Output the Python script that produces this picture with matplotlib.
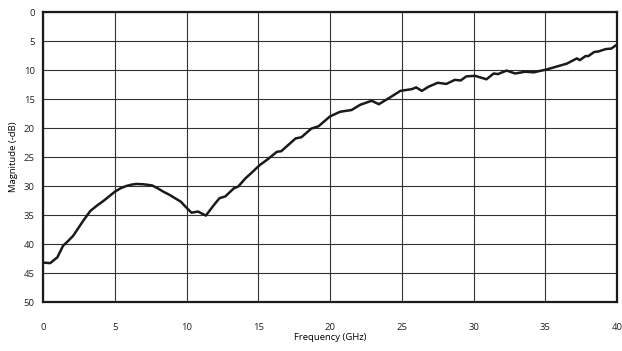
import numpy as np
import matplotlib
matplotlib.use('Agg')
import matplotlib.pyplot as plt

# frequency (GHz) and magnitude (-dB)
freq = [0.0, 0.5, 1.0, 1.4, 1.7, 2.1, 2.8, 3.3, 3.8, 4.2, 4.6, 5.0, 5.4, 5.8,
        6.2, 6.5, 7.0, 7.6, 8.0, 8.4, 8.8, 9.2, 9.6, 10.1, 10.35, 10.8,
        11.35, 11.9, 12.3, 12.7, 13.3, 13.6, 14.1, 14.5, 15.1, 15.6, 16.3,
        16.6, 17.6, 18.0, 18.7, 19.2, 20.0, 20.7, 21.5, 22.1, 22.9, 23.4,
        24.2, 24.9, 25.7, 26.0, 26.4, 26.85, 27.5, 28.1, 28.7, 29.1, 29.5,
        30.1, 30.9, 31.4, 31.7, 32.3, 32.9, 33.6, 34.2, 35.1, 35.8, 36.5,
        37.2, 37.4, 37.8, 38.0, 38.4, 38.7, 39.2, 39.6, 40.0]
magnitude = [43.2, 43.3, 42.3, 40.3, 39.6, 38.6, 36.0, 34.3, 33.3, 32.6,
             31.8, 31.0, 30.4, 30.0, 29.75, 29.65, 29.7, 29.9, 30.4, 31.0,
             31.5, 32.1, 32.7, 34.0, 34.6, 34.4, 35.1, 33.3, 32.1, 31.8, 30.4,
             30.1, 28.7, 27.8, 26.4, 25.5, 24.1, 24.0, 21.8, 21.6, 20.1, 19.7,
             18.0, 17.2, 16.9, 16.0, 15.3, 15.9, 14.7, 13.6, 13.3, 13.0, 13.6,
             12.9, 12.2, 12.4, 11.7, 11.8, 11.1, 11.0, 11.6, 10.6, 10.7, 10.1,
             10.6, 10.3, 10.4, 9.9, 9.4, 8.9, 8.0, 8.3, 7.6, 7.6, 6.9, 6.8,
             6.4, 6.3, 5.6]

x_ticks = [0, 5, 10, 15, 20, 25, 30, 35, 40]
y_ticks = [0, 5, 10, 15, 20, 25, 30, 35, 40, 45, 50]

plt.rcParams['font.family'] = ['Open Sans', 'DejaVu Sans']

fig = plt.figure(figsize=(6.22, 3.51), dpi=100)
ax = fig.add_axes([0.0691, 0.1396, 0.923, 0.8262])
ax.plot(freq, magnitude, color='#1a1a1a', linewidth=1.8,
        solid_joinstyle='round', solid_capstyle='round')
ax.set_xlim(0, 40)
ax.set_ylim(50, 0)
ax.set_xticks(x_ticks)
ax.set_yticks(y_ticks)
ax.tick_params(length=0, labelsize=6.8, colors='#222222')
ax.tick_params(axis='x', pad=15)
ax.tick_params(axis='y', pad=6)
ax.grid(True, color='#333333', linewidth=0.8)
for s in ax.spines.values():
    s.set_linewidth(1.6)
    s.set_color('#1a1a1a')
ax.set_xlabel('Frequency (GHz)', fontsize=6.8, labelpad=1)
ax.set_ylabel('Magnitude (-dB)', fontsize=6.8, labelpad=4)
fig.savefig('out.png', dpi=100)
